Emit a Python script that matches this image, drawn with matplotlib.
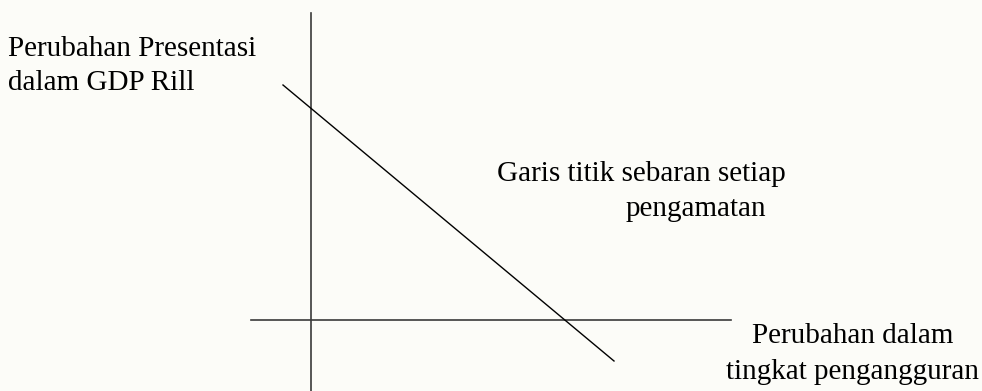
import matplotlib.pyplot as plt

plt.rcParams['font.family'] = ['Liberation Serif', 'DejaVu Serif']

# diagram coordinates (pixel space, y grows downward)
y_axis_x = [311, 311]
y_axis_y = [13, 391]
x_axis_x = [251, 731]
x_axis_y = [320, 320]
scatter_line_x = [283, 614]
scatter_line_y = [85, 361]

y_label = ["Perubahan Presentasi", "dalam GDP Rill"]
line_label = ["Garis titik sebaran setiap", "pengamatan"]
x_label = ["Perubahan dalam", "tingkat pengangguran"]

fig = plt.figure(figsize=(9.82, 3.91), dpi=100)
fig.patch.set_facecolor('#fcfcf8')
ax = fig.add_axes([0, 0, 1, 1])
ax.set_facecolor('#fcfcf8')
ax.set_xlim(0, 982)
ax.set_ylim(391, 0)
ax.axis('off')

ax.plot(y_axis_x, y_axis_y, color='#3a3a3a', lw=1.2)
ax.plot(x_axis_x, x_axis_y, color='#3a3a3a', lw=1.2)
ax.plot(scatter_line_x, scatter_line_y, color='black', lw=1.0)

fs = 21
ax.text(8, 56, y_label[0], fontsize=fs, ha='left', va='baseline')
ax.text(8, 90, y_label[1], fontsize=fs, ha='left', va='baseline')
ax.text(497, 181, line_label[0], fontsize=fs, ha='left', va='baseline')
ax.text(626, 216, line_label[1], fontsize=fs, ha='left', va='baseline')
ax.text(853, 343, x_label[0], fontsize=fs, ha='center', va='baseline')
ax.text(853, 379, x_label[1], fontsize=fs, ha='center', va='baseline')

fig.savefig('out.png', dpi=100, facecolor=fig.get_facecolor())
